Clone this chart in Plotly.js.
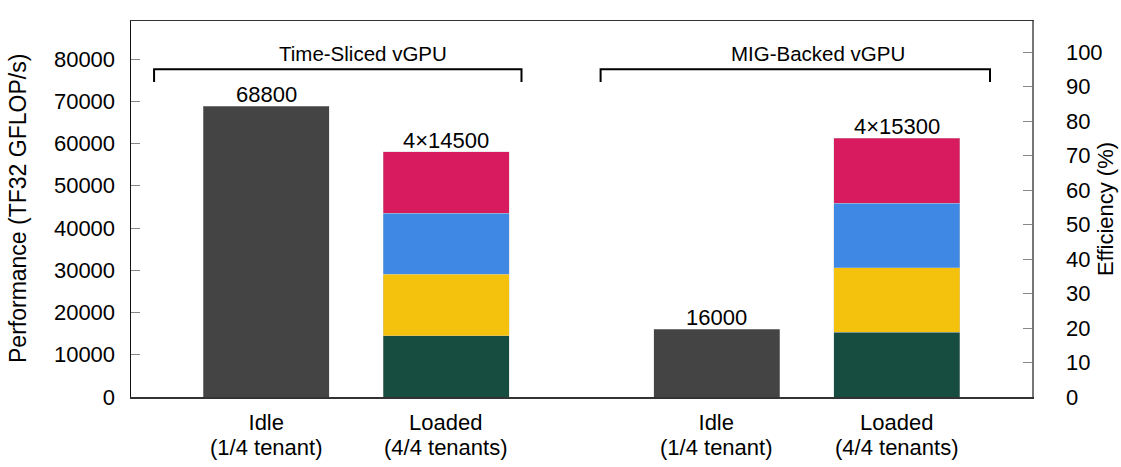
<!DOCTYPE html>
<html>
<head>
<meta charset="utf-8">
<script src="https://cdn.plot.ly/plotly-3.0.1.min.js"></script>
<style>
  html, body { margin: 0; padding: 0; background: #fff; }
  #chart { width: 1121px; height: 467px; }
</style>
</head>
<body>
<div id="chart"></div>
<script>
// bar slots on the x axis (Time-Sliced idle/loaded, MIG idle/loaded)
var slots = [1, 2, 3.5, 4.5];
var tickLabels = ['Idle<br>(1/4 tenant)', 'Loaded<br>(4/4 tenants)', 'Idle<br>(1/4 tenant)', 'Loaded<br>(4/4 tenants)'];

// single tenant running alone
var idleValues = [68800, 16000];
// per-tenant share when all four run (Time-Sliced, MIG)
var tenant1 = [14500, 15300];
var tenant2 = [14500, 15300];
var tenant3 = [14500, 15300];
var tenant4 = [14500, 15300];
var barLabels = ['68800', '4×14500', '16000', '4×15300'];
var groupNames = ['Time-Sliced vGPU', 'MIG-Backed vGPU'];

var FONT = 'Liberation Sans, Arial, Helvetica, sans-serif';
var idleX = [slots[0], slots[2]];
var loadedX = [slots[1], slots[3]];

function bar(x, y, color) {
    return {
        type: 'bar',
        x: x,
        y: y,
        width: 0.7,
        marker: { color: color, line: { color: 'rgba(200,200,200,0.6)', width: 0.6 } },
        hoverinfo: 'skip',
        showlegend: false
    };
}

var data = [
    bar(idleX, idleValues, '#444444'),
    bar(loadedX, tenant1, '#174C40'),
    bar(loadedX, tenant2, '#F4C10C'),
    bar(loadedX, tenant3, '#3F88E3'),
    bar(loadedX, tenant4, '#D81B5F'),
    // keeps the efficiency axis alive
    { type: 'scatter', x: [slots[0]], y: [null], yaxis: 'y2', hoverinfo: 'skip', showlegend: false }
];

var totals = [idleValues[0], tenant1[0] + tenant2[0] + tenant3[0] + tenant4[0],
              idleValues[1], tenant1[1] + tenant2[1] + tenant3[1] + tenant4[1]];

var txt = function (size) { return { family: FONT, size: size, color: '#000' }; };

var annotations = [];
for (var i = 0; i < slots.length; i++) {
    annotations.push({
        x: slots[i], y: totals[i], xref: 'x', yref: 'y',
        text: barLabels[i], showarrow: false,
        yanchor: 'bottom', yshift: -3,
        font: txt(22)
    });
    // category labels under the axis
    annotations.push({
        x: slots[i], y: 0, xref: 'x', yref: 'paper',
        text: tickLabels[i], showarrow: false,
        yanchor: 'top', yshift: -10.5,
        font: txt(22)
    });
}

// group brackets, label a bit right of the bracket centre like the original
var brackets = [[0.378, 2.417], [2.856, 5.017]];
var groupX = [1.539, 4.065];
var shapes = [];
for (var g = 0; g < brackets.length; g++) {
    var b = brackets[g];
    shapes.push({
        type: 'path', xref: 'x', yref: 'paper',
        path: 'M ' + b[0] + ',0.838 L ' + b[0] + ',0.872 L ' + b[1] + ',0.872 L ' + b[1] + ',0.838',
        line: { color: '#000', width: 2 }
    });
    annotations.push({
        x: groupX[g], y: 0.872, xref: 'x', yref: 'paper',
        text: groupNames[g], showarrow: false, yanchor: 'bottom', yshift: 2,
        font: txt(20.5)
    });
}

// axis titles placed by hand so they sit where the original has them
annotations.push({
    x: 0, y: 0.5, xref: 'paper', yref: 'paper', xshift: -113, xanchor: 'center',
    text: 'Performance (TF32 GFLOP/s)', textangle: -90, showarrow: false,
    font: txt(23)
});
annotations.push({
    x: 1, y: 0.5, xref: 'paper', yref: 'paper', xshift: 73, xanchor: 'center',
    text: 'Efficiency (%)', textangle: -90, showarrow: false,
    font: txt(22)
});

var layout = {
    width: 1121,
    height: 467,
    margin: { l: 131, r: 89, t: 21, b: 70 },
    paper_bgcolor: '#fff',
    plot_bgcolor: '#fff',
    barmode: 'stack',
    font: txt(22),
    showlegend: false,
    xaxis: {
        range: [0.25, 5.25],
        showticklabels: false,
        ticks: '',
        showgrid: false,
        zeroline: false,
        showline: true,
        mirror: true,
        linecolor: '#333',
        linewidth: 1.5
    },
    yaxis: {
        range: [0, 89000],
        dtick: 10000,
        tickformat: 'd',
        ticks: 'inside',
        ticklen: 9,
        tickcolor: '#888',
        ticklabelstandoff: 10,
        showgrid: false,
        zeroline: false,
        showline: true,
        linecolor: '#111',
        linewidth: 1.5,
        tickfont: txt(22)
    },
    yaxis2: {
        overlaying: 'y',
        side: 'right',
        range: [0, 109],
        dtick: 10,
        ticks: 'inside',
        ticklen: 9,
        tickcolor: '#888',
        ticklabelstandoff: 28,
        showgrid: false,
        zeroline: false,
        showline: true,
        linecolor: '#777',
        linewidth: 1.5,
        tickfont: txt(22)
    },
    shapes: shapes,
    annotations: annotations
};

Plotly.newPlot('chart', data, layout, { displayModeBar: false, staticPlot: true }).then(function () {
    // the original sets the two label lines closer than plotly's 1.3em
    var lines = document.querySelectorAll('.annotation-text tspan.line');
    lines.forEach(function (t) {
        if (t.textContent.charAt(0) === '(') {
            t.setAttribute('dy', '1.13em');
        }
    });
});
</script>
</body>
</html>
